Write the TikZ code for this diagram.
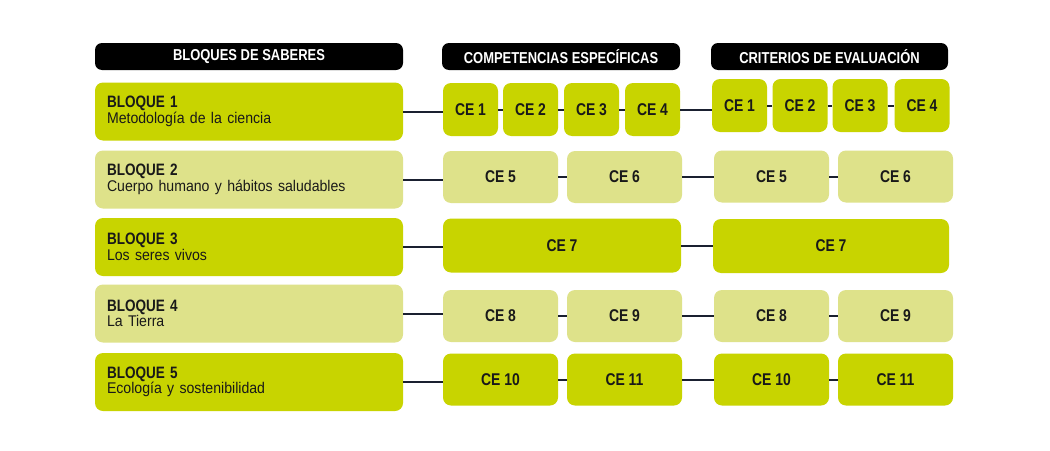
\documentclass[tikz,border=0pt]{standalone}
\usepackage{fontspec}
\setmainfont{Liberation Sans}[FakeStretch=0.82]
\newfontfamily\subfont{Liberation Sans}[FakeStretch=0.91]
\usepackage{tikz}
\definecolor{lima}{RGB}{200,212,0}
\definecolor{limalight}{RGB}{222,226,138}
\definecolor{navy}{RGB}{26,32,48}
\tikzstyle{header}=[rounded corners=7pt,fill=black,text=white,minimum height=27pt,inner sep=0pt,font=\fontsize{15.8}{15.8}\selectfont\bfseries]
\tikzstyle{bloque}=[rounded corners=8pt,minimum height=58pt,text width=284pt,inner xsep=12pt,inner ysep=0pt,align=left,text=black!90,font=\fontsize{16}{12.5}\selectfont]
\tikzstyle{ce}=[rounded corners=8pt,inner sep=0pt,text=black!90,font=\fontsize{17}{17}\selectfont\bfseries]
\tikzstyle{cebox}=[ce,minimum width=55pt,minimum height=53pt]
\tikzstyle{cehalf}=[ce,minimum width=115pt,minimum height=52pt]
\tikzstyle{link}=[draw=navy,line width=2pt]

\newcommand{\bq}[2]{{\bfseries\fontsize{16.5}{12.5}\selectfont #1}\\{\subfont\fontsize{15.5}{12.5}\selectfont #2}}

\begin{document}
\begin{tikzpicture}[x=1pt,y=-1pt]
  \fill[white] (0,0) rectangle (1050,450);
  \useasboundingbox (0,0) rectangle (1050,450);

  % headers
  \node[header,minimum width=308pt] (h1) at (249,56.5) {BLOQUES DE SABERES};
  \node[header,minimum width=238pt] (h2) at (561,56.5) {COMPETENCIAS ESPECÍFICAS};
  \node[header,minimum width=237pt] (h3) at (829.5,56.5) {CRITERIOS DE EVALUACIÓN};

  % bloques
  \node[bloque,fill=lima] (b1) at (249,111.5) {\bq{BLOQUE 1}{Metodología de la ciencia}};
  \node[bloque,fill=limalight] (b2) at (249,179.5) {\bq{BLOQUE 2}{Cuerpo humano y hábitos saludables}};
  \node[bloque,fill=lima] (b3) at (249,247) {\bq{BLOQUE 3}{Los seres vivos}};
  \node[bloque,fill=limalight] (b4) at (249,313.5) {\bq{BLOQUE 4}{La Tierra}};
  \node[bloque,fill=lima] (b5) at (249,382) {\bq{BLOQUE 5}{Ecología y sostenibilidad}};

  % competencias
  \node[cebox,fill=lima] (c1) at (470.5,109.5) {CE 1};
  \node[cebox,fill=lima] (c2) at (530.5,109.5) {CE 2};
  \node[cebox,fill=lima] (c3) at (591.5,109.5) {CE 3};
  \node[cebox,fill=lima] (c4) at (652.5,109.5) {CE 4};
  \node[cehalf,fill=limalight] (c5) at (500.5,177) {CE 5};
  \node[cehalf,fill=limalight] (c6) at (624.5,177) {CE 6};
  \node[ce,fill=lima,minimum width=238pt,minimum height=54pt] (c7) at (562,245.5) {CE 7};
  \node[cehalf,fill=limalight] (c8) at (500.5,316) {CE 8};
  \node[cehalf,fill=limalight] (c9) at (624.5,316) {CE 9};
  \node[cehalf,fill=lima] (c10) at (500.5,379.5) {CE 10};
  \node[cehalf,fill=lima] (c11) at (624.5,379.5) {CE 11};

  % criterios
  \node[cebox,fill=lima] (k1) at (739.5,105.5) {CE 1};
  \node[cebox,fill=lima] (k2) at (800,105.5) {CE 2};
  \node[cebox,fill=lima] (k3) at (860,105.5) {CE 3};
  \node[cebox,fill=lima] (k4) at (922,105.5) {CE 4};
  \node[cehalf,fill=limalight] (k5) at (771.5,176.5) {CE 5};
  \node[cehalf,fill=limalight] (k6) at (895.5,176.5) {CE 6};
  \node[ce,fill=lima,minimum width=236pt,minimum height=54pt] (k7) at (831,246) {CE 7};
  \node[cehalf,fill=limalight] (k8) at (771.5,316) {CE 8};
  \node[cehalf,fill=limalight] (k9) at (895.5,316) {CE 9};
  \node[cehalf,fill=lima] (k10) at (771.5,379.5) {CE 10};
  \node[cehalf,fill=lima] (k11) at (895.5,379.5) {CE 11};

  % connectors
  \draw[link] (b1.east) -- (b1.east -| c1.west);
  \draw[link] (c1.east) -- (c1.east -| c2.west);
  \draw[link] (c2.east) -- (c2.east -| c3.west);
  \draw[link] (c3.east) -- (c3.east -| c4.west);
  \draw[link] (c4.east) -- (c4.east -| k1.west);
  \draw[link] (k1.east) -- (k1.east -| k2.west);
  \draw[link] (k2.east) -- (k2.east -| k3.west);
  \draw[link] (k3.east) -- (k3.east -| k4.west);
  \draw[link] (b2.east) -- (b2.east -| c5.west);
  \draw[link] (c5.east) -- (c5.east -| c6.west);
  \draw[link] (c6.east) -- (c6.east -| k5.west);
  \draw[link] (k5.east) -- (k5.east -| k6.west);
  \draw[link] (b3.east) -- (b3.east -| c7.west);
  \draw[link] (c7.east) -- (c7.east -| k7.west);
  \draw[link] (b4.east) -- (b4.east -| c8.west);
  \draw[link] (c8.east) -- (c8.east -| c9.west);
  \draw[link] (c9.east) -- (c9.east -| k8.west);
  \draw[link] (k8.east) -- (k8.east -| k9.west);
  \draw[link] (b5.east) -- (b5.east -| c10.west);
  \draw[link] (c10.east) -- (c10.east -| c11.west);
  \draw[link] (c11.east) -- (c11.east -| k10.west);
  \draw[link] (k10.east) -- (k10.east -| k11.west);
\end{tikzpicture}
\end{document}
